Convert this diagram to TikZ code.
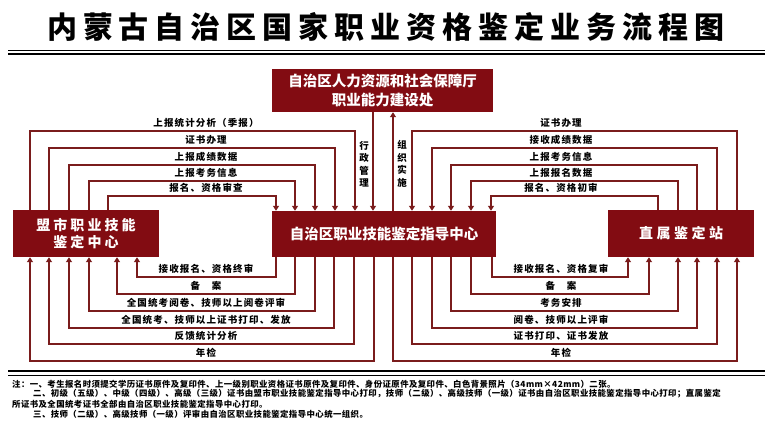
\documentclass[tikz,border=0pt]{standalone}
\usepackage{fontspec}
\setmainfont{Noto Sans CJK SC}
\usetikzlibrary{arrows.meta}
\definecolor{boxred}{RGB}{130,12,18}
\definecolor{linered}{RGB}{122,28,28}
\tikzset{
  box/.style={fill=boxred, text=white, inner sep=0pt, align=center,
    font=\bfseries\fontsize{14.5}{19}\selectfont},
  flow/.style={draw=linered, line width=1.2pt, -{Triangle[length=5pt,width=6pt]}},
  lbl/.style={inner sep=0pt, font=\bfseries\fontsize{9.5}{11}\selectfont\addfontfeatures{LetterSpace=12}},
  vlbl/.style={inner sep=0pt, align=center, font=\bfseries\fontsize{9.5}{12.5}\selectfont},
  note/.style={anchor=west, inner sep=0pt, font=\bfseries\fontsize{8.4}{10}\selectfont\addfontfeatures{LetterSpace=5}},
}
\begin{document}
\begin{tikzpicture}[x=1pt,y=-1pt]
    \useasboundingbox[fill=white] (0,0) rectangle (772,424);
    % Title and rules
    \node[inner sep=0pt, font=\bfseries\fontsize{30}{32}\selectfont\addfontfeatures{LetterSpace=20}] (title) at (386,27) {内蒙古自治区国家职业资格鉴定业务流程图};
    \draw[line width=1.2pt] (8,50.5) -- (765,50.5);
    \draw[line width=2.4pt] (8,54) -- (765,54);
    % Boxes
    \node[box, minimum width=221pt, minimum height=43pt] (rst) at (382.5,90.5) {自治区人力资源和社会保障厅\\职业能力建设处};
    \node[box, minimum width=224pt, minimum height=46pt] (zx) at (384,234) {自治区职业技能鉴定指导中心};
    \node[box, minimum width=146pt, minimum height=47pt, font=\bfseries\fontsize{14}{16.5}\selectfont\addfontfeatures{LetterSpace=22}] (mc) at (86,233.5) {盟市职业技能\\鉴定中心};
    \node[box, minimum width=146pt, minimum height=47pt, font=\bfseries\fontsize{14}{16.5}\selectfont\addfontfeatures{LetterSpace=25}] (zs) at (681,233.5) {直属鉴定站};
    % Administration and organisation
    \coordinate (va) at (373,0);
    \draw[flow] (rst.south -| va) -- (zx.north -| va);
    \node[vlbl] (xzgl) at (364,164) {行\\政\\管\\理};
    \coordinate (vb) at (393,0);
    \draw[flow] (zx.north -| vb) -- (rst.south -| vb);
    \node[vlbl] (zzss) at (402,164) {组\\织\\实\\施};
    % League/city centres up to the region centre
    \foreach \xa/\xb/\yy/\txt [count=\i] in {30/355/131/上报统计分析（季报）, 49/335/148/证书办理, 69/315/165/上报成绩数据, 89/295/181/上报考务信息, 108/276/196/报名、资格审查}{
      \coordinate (ta) at (\xa,\yy);
      \coordinate (tb) at (\xb,\yy);
      \draw[flow] (mc.north -| ta) -- (ta) -- (tb) -- (zx.north -| tb);
      \node[lbl] (ul\i) at (206,\yy-8) {\txt};
    }
    % Region centre down to league/city centres
    \foreach \xa/\xb/\yy/\txt [count=\i] in {276/137/277/接收报名、资格终审, 295/117/294/备　案, 315/89/311/全国统考阅卷、技师以上阅卷评审, 334/69/328/全国统考、技师以上证书打印、发放, 354/49/344/反馈统计分析, 374/30/361/年检}{
      \coordinate (ta) at (\xa,\yy);
      \coordinate (tb) at (\xb,\yy);
      \draw[flow] (zx.south -| ta) -- (ta) -- (tb) -- (mc.south -| tb);
      \node[lbl] (ll\i) at (206,\yy-8) {\txt};
    }
    % Direct stations up to the region centre
    \foreach \xa/\xb/\yy/\txt [count=\i] in {737/412/131/证书办理, 717/432/148/接收成绩数据, 697/451/165/上报考务信息, 678/471/181/上报报名数据, 658/491/196/报名、资格初审}{
      \coordinate (ta) at (\xa,\yy);
      \coordinate (tb) at (\xb,\yy);
      \draw[flow] (zs.north -| ta) -- (ta) -- (tb) -- (zx.north -| tb);
      \node[lbl] (ur\i) at (561,\yy-8) {\txt};
    }
    % Region centre down to direct stations
    \foreach \xa/\xb/\yy/\txt [count=\i] in {492/628/277/接收报名、资格复审, 471/649/294/备　案, 451/678/311/考务安排, 432/697/328/阅卷、技师以上评审, 412/717/344/证书打印、证书发放, 393/737/361/年检}{
      \coordinate (ta) at (\xa,\yy);
      \coordinate (tb) at (\xb,\yy);
      \draw[flow] (zx.south -| ta) -- (ta) -- (tb) -- (zs.south -| tb);
      \node[lbl] (lr\i) at (561,\yy-8) {\txt};
    }
    % Notes
    \draw[line width=2.6pt] (8,371) -- (765,371);
    \draw[line width=1pt] (8,375) -- (765,375);
    \node[note] (n1) at (12,384) {注：一、考生报名时须提交学历证书原件及复印件、上一级别职业资格证书原件及复印件、身份证原件及复印件、白色背景照片（34mm×42mm）二张。};
    \node[note] (n2) at (33,394) {二、初级（五级）、中级（四级）、高级（三级）证书由盟市职业技能鉴定指导中心打印，技师（二级）、高级技师（一级）证书由自治区职业技能鉴定指导中心打印；直属鉴定};
    \node[note] (n3) at (12,404) {所证书及全国统考证书全部由自治区职业技能鉴定指导中心打印。};
    \node[note] (n4) at (33,414) {三、技师（二级）、高级技师（一级）评审由自治区职业技能鉴定指导中心统一组织。};
\end{tikzpicture}
\end{document}
